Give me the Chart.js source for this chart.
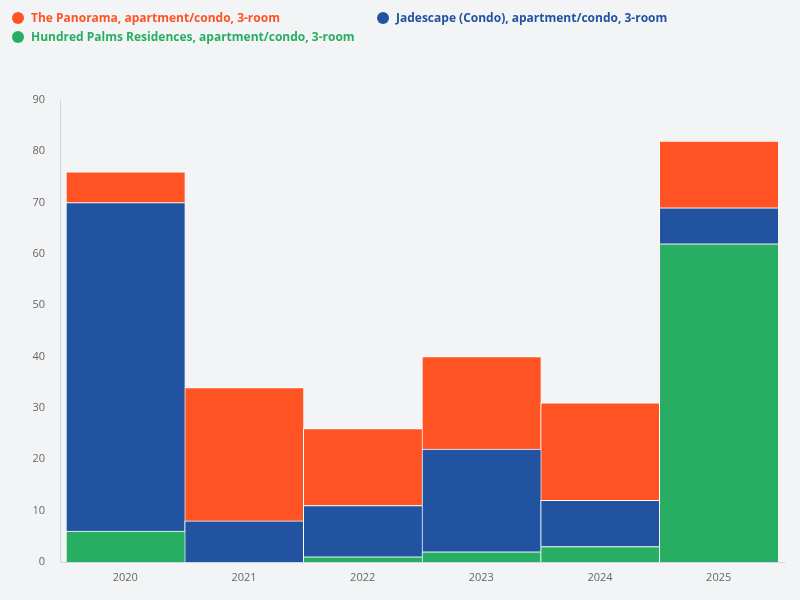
<!DOCTYPE html>
<html><head><meta charset="utf-8">
<script src="https://cdn.jsdelivr.net/npm/chart.js@4.4.1/dist/chart.umd.min.js"></script>
<style>
html,body{margin:0;padding:0;background:#f3f4f6;}
#wrap{position:relative;width:800px;height:600px;}
#legend{position:absolute;left:0;top:0;width:800px;height:50px;font-family:"Open Sans","Noto Sans",sans-serif;font-weight:bold;font-size:12px;}
.li{position:absolute;display:flex;align-items:center;white-space:nowrap;}
.dot{width:12px;height:12px;border-radius:50%;margin-right:7px;}
canvas{position:absolute;left:0;top:0;}
</style></head>
<body><div id="wrap"><canvas id="c" width="800" height="600"></canvas><div id="legend"></div></div>
<script>
const categories = ["2020","2021","2022","2023","2024","2025"];
const panorama = [6, 26, 15, 18, 19, 13];
const jadescape = [64, 8, 10, 20, 9, 7];
const hundredPalms = [6, 0, 1, 2, 3, 62];
const seriesNames = ["The Panorama, apartment/condo, 3-room","Jadescape (Condo), apartment/condo, 3-room","Hundred Palms Residences, apartment/condo, 3-room"];
const colors = ["#ff5324","#2253a0","#28ae62"];
const yTicks = [0,10,20,30,40,50,60,70,80,90];

const legendPos = [[12,17],[377,17],[12,36]];
const lg = document.getElementById('legend');
seriesNames.forEach((n,i)=>{
  const d=document.createElement('div');d.className='li';
  d.style.left=legendPos[i][0]+'px';d.style.top=(legendPos[i][1]-8)+'px';d.style.color=colors[i];
  d.innerHTML='<span class="dot" style="background:'+colors[i]+'"></span>'+n;
  lg.appendChild(d);
});

const axisLines = {
  id:'axisLines',
  afterDraw(chart){
    const {ctx,chartArea:a}=chart;
    ctx.save();ctx.strokeStyle='#ccd6eb';ctx.lineWidth=1;
    ctx.beginPath();
    ctx.moveTo(60.5,a.top);ctx.lineTo(60.5,a.bottom);
    ctx.moveTo(60,a.bottom+0.5);ctx.lineTo(785,a.bottom+0.5);
    ctx.stroke();ctx.restore();
  }
};

const ds = (label,data,color)=>({label,data,backgroundColor:color,borderColor:'#ffffff',borderWidth:{left:1,top:1,right:0,bottom:0},borderSkipped:false,categoryPercentage:1,barPercentage:1,stack:'s'});
new Chart(document.getElementById('c'),{
  type:'bar',
  data:{labels:categories,datasets:[ds(seriesNames[2],hundredPalms,colors[2]),ds(seriesNames[1],jadescape,colors[1]),ds(seriesNames[0],panorama,colors[0])]},
  plugins:[axisLines],
  options:{
    responsive:false,animation:false,
    layout:{padding:{top:100,right:22,left:0,bottom:0}},
    plugins:{legend:{display:false},tooltip:{enabled:false}},
    scales:{
      x:{stacked:true,grid:{display:false,drawTicks:false},border:{display:false},
        ticks:{color:'#666',font:{family:"'Open Sans'",size:11},padding:9},
        afterFit:s=>{s.height=38;}},
      y:{stacked:true,min:0,max:90,grid:{display:false,drawTicks:false},border:{display:false},
        afterBuildTicks:s=>{s.ticks=yTicks.map(v=>({value:v}));},
        ticks:{color:'#666',font:{family:"'Open Sans'",size:11},padding:21},
        afterFit:s=>{s.width=66;}}
    }
  }
});
</script></body></html>
